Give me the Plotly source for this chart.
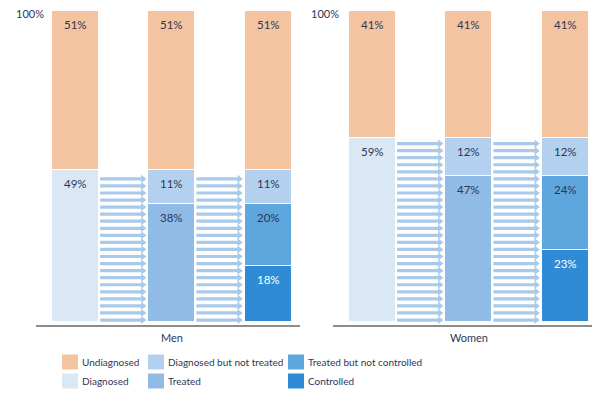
import plotly.graph_objects as go

# ---------------- data ----------------
panels = ["Men", "Women"]
colors = {
    "Undiagnosed": "#f4c4a1",
    "Diagnosed": "#dae7f5",
    "Diagnosed but not treated": "#b3d0ef",
    "Treated": "#8fbbe6",
    "Treated but not controlled": "#5ea6de",
    "Controlled": "#2f8bd6",
}
# values in % (stacked bottom -> top)
men_bar1 = {"Diagnosed": 49, "Undiagnosed": 51}
men_bar2 = {"Treated": 38, "Diagnosed but not treated": 11, "Undiagnosed": 51}
men_bar3 = {"Controlled": 18, "Treated but not controlled": 20,
            "Diagnosed but not treated": 11, "Undiagnosed": 51}
women_bar1 = {"Diagnosed": 59, "Undiagnosed": 41}
women_bar2 = {"Treated": 47, "Diagnosed but not treated": 12, "Undiagnosed": 41}
women_bar3 = {"Controlled": 23, "Treated but not controlled": 24,
              "Diagnosed but not treated": 12, "Undiagnosed": 41}
men_bars = [men_bar1, men_bar2, men_bar3]
women_bars = [women_bar1, women_bar2, women_bar3]
diagnosed = {"Men": 49, "Women": 59}
legend_cols = [("Undiagnosed", "Diagnosed"),
               ("Diagnosed but not treated", "Treated"),
               ("Treated but not controlled", "Controlled")]

label_color = "#2b3856"
font_family = "Lato, 'Open Sans', sans-serif"

# page body has an 8px margin: lay out on a 592x388 figure, px = reference px - 8
W, H = 592, 388
OFF = 8
PLOT_TOP, PLOT_BOT = 11, 325  # reference pixels


def px_x(p):
    return (p - OFF) / W


def px_y(p):
    return (PLOT_BOT - p) / (PLOT_BOT - PLOT_TOP)


fig = go.Figure()
annotations = []
shapes = []

axes = {"Men": ("x", "y"), "Women": ("x2", "y2")}
for panel, bars in zip(panels, [men_bars, women_bars]):
    xa, ya = axes[panel]
    for stage in ["Diagnosed", "Controlled", "Treated", "Treated but not controlled",
                  "Diagnosed but not treated", "Undiagnosed"]:
        xs, ys = [], []
        for i, b in enumerate(bars):
            if stage in b:
                xs.append(i)
                ys.append(b[stage])
        if not xs:
            continue
        fig.add_trace(go.Bar(
            x=xs, y=ys, width=0.49, xaxis=xa, yaxis=ya,
            marker=dict(color=colors[stage], line=dict(color="white", width=1)),
            name=stage, showlegend=False, hoverinfo="skip"))
    for i, b in enumerate(bars):
        cum = 0
        for stage, v in b.items():
            cum += v
            annotations.append(dict(
                x=i, y=cum, xref=xa, yref=ya, text=f"{v}%", showarrow=False,
                yanchor="top", yshift=-5,
                font=dict(family=font_family, size=11.5,
                          color="white" if stage == "Controlled" else label_color)))
    # striped arrows between bars, spanning the diagnosed height
    ax_, ay_, mx, my = [], [], [], []
    y = 0.6
    while y <= diagnosed[panel] - 1.0:
        for g in range(2):
            ax_ += [g + 0.255, g + 0.69, None]
            ay_ += [y, y, None]
            mx.append(g + 0.70)
            my.append(y)
        y += 2.27
    fig.add_trace(go.Scatter(x=ax_, y=ay_, mode="lines", xaxis=xa, yaxis=ya,
                             line=dict(color="#a9c9e9", width=3.2),
                             showlegend=False, hoverinfo="skip"))
    fig.add_trace(go.Scatter(x=mx, y=my, mode="markers", xaxis=xa, yaxis=ya,
                             marker=dict(symbol="triangle-right", size=7, color="#a9c9e9"),
                             showlegend=False, hoverinfo="skip"))

# panel titles and 100% labels
for xa, name in [("x", "Men"), ("x2", "Women")]:
    annotations.append(dict(x=1, y=px_y(337), xref=xa, yref="paper", text=name,
                            showarrow=False, yanchor="middle",
                            font=dict(family=font_family, size=11, color=label_color)))
annotations.append(dict(x=px_x(46), y=px_y(13), xref="paper", yref="paper", text="100%",
                        showarrow=False, xanchor="right", yanchor="middle",
                        font=dict(family=font_family, size=11, color=label_color)))
annotations.append(dict(x=px_x(341), y=px_y(13), xref="paper", yref="paper", text="100%",
                        showarrow=False, xanchor="right", yanchor="middle",
                        font=dict(family=font_family, size=11, color=label_color)))

# legend (3 columns x 2 rows)
col_x = [62, 148, 288]
row_y = [362, 381]
for cx, pair in zip(col_x, legend_cols):
    for ry, stage in zip(row_y, pair):
        shapes.append(dict(type="rect", xref="paper", yref="paper",
                           x0=px_x(cx), x1=px_x(cx + 16),
                           y0=px_y(ry + 7.5), y1=px_y(ry - 7.5),
                           fillcolor=colors[stage], line=dict(width=0)))
        annotations.append(dict(x=px_x(cx + 18), y=px_y(ry), xref="paper", yref="paper",
                                text=stage, showarrow=False, xanchor="left", yanchor="middle",
                                font=dict(family=font_family, size=10, color=label_color)))

axis_common = dict(showgrid=False, zeroline=False, showticklabels=False, ticks="",
                   showline=True, linecolor="#8c8c8c", linewidth=2, range=[-0.41, 2.33],
                   fixedrange=True)
yaxis_common = dict(showgrid=False, zeroline=False, showticklabels=False, ticks="",
                    showline=False, range=[-1, 100], fixedrange=True)

fig.update_layout(
    width=W, height=H,
    margin=dict(l=0, r=0, t=PLOT_TOP - OFF, b=H - (PLOT_BOT - OFF)),
    paper_bgcolor="white", plot_bgcolor="white",
    barmode="stack", bargap=0,
    xaxis=dict(domain=[px_x(36), px_x(300)], anchor="y", **axis_common),
    xaxis2=dict(domain=[px_x(333), px_x(597)], anchor="y2", **axis_common),
    yaxis=dict(domain=[0, 1], anchor="x", **yaxis_common),
    yaxis2=dict(domain=[0, 1], anchor="x2", **yaxis_common),
    annotations=annotations, shapes=shapes,
    showlegend=False,
)

fig.write_html("out.html")
